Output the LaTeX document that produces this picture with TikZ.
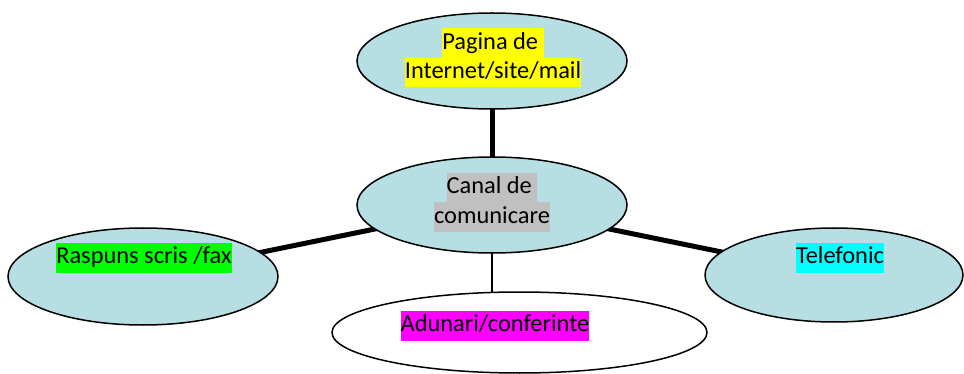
\documentclass[tikz,border=0pt]{standalone}
\usepackage{fontspec}
\setmainfont{Carlito}
\usetikzlibrary{shapes.geometric,backgrounds}
\definecolor{bubble}{RGB}{183,222,226}
\definecolor{hlgray}{RGB}{192,192,192}
\definecolor{hlyellow}{RGB}{255,255,0}
\definecolor{hlgreen}{RGB}{0,255,0}
\definecolor{hlcyan}{RGB}{0,255,255}
\definecolor{hlmagenta}{RGB}{255,0,255}
\newcommand\hlt[2]{{\setlength\fboxsep{0pt}\colorbox{#1}{\strut#2}}}
\begin{document}
\begin{tikzpicture}[x=1pt,y=-1pt,
  bub/.style={ellipse,draw,line width=1.5pt,fill=bubble,inner sep=0pt},
  wbub/.style={ellipse,draw,line width=1.5pt,fill=white,inner sep=0pt},
  txt/.style={font=\fontsize{24.4}{29.5}\selectfont,align=center,inner sep=0pt},
  connthick/.style={line width=5pt},
  connthin/.style={line width=1.5pt}]
\useasboundingbox (0,0) rectangle (964,374);
\node[bub,minimum width=270pt,minimum height=96pt] (top) at (492,61) {};
\node[bub,minimum width=270pt,minimum height=96pt] (ctr) at (492,205) {};
\node[bub,minimum width=270pt,minimum height=97pt] (lft) at (143,276.5) {};
\node[bub,minimum width=258pt,minimum height=94pt] (rgt) at (834,275) {};
\node[wbub,minimum width=375pt,minimum height=81pt] (bot) at (519.5,332.5) {};
\node[txt] (toptxt) at (493,58) {\hlt{hlyellow}{Pagina de\ }\\\hlt{hlyellow}{Internet/site/mail}};
\node[txt] (ctrtxt) at (492,202.5) {\hlt{hlgray}{Canal de\ }\\\hlt{hlgray}{comunicare}};
\node[txt] (lfttxt) at (144,258) {\hlt{hlgreen}{Raspuns scris /fax}};
\node[txt] (rgttxt) at (840,258) {\hlt{hlcyan}{Telefonic}};
\node[txt] (bottxt) at (495,326) {\hlt{hlmagenta}{Adunari/conferinte}};
\begin{pgfonlayer}{background}
\draw[connthick] (ctr.center) -- (top.center);
\draw[connthick] (ctr.center) -- (lft.center);
\draw[connthick] (ctr.center) -- (rgt.center);
\draw[connthin] (ctr.center) -- (ctr.center |- bot.center);
\end{pgfonlayer}
\end{tikzpicture}
\end{document}
